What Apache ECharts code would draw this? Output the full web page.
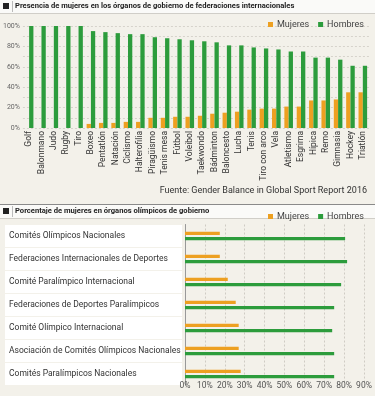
<!DOCTYPE html>
<html>
<head>
<meta charset="utf-8">
<script src="https://cdn.jsdelivr.net/npm/echarts@6/dist/echarts.min.js"></script>
<style>
  html, body { margin: 0; padding: 0; background: #f3f1ea; }
  #chart { width: 375px; height: 396px; }
</style>
</head>
<body>
<div id="chart"></div>
<script>
// federaciones internacionales (gráfico superior)
const deportes = ['Golf', 'Balonmano', 'Judo', 'Rugby', 'Tiro', 'Boxeo', 'Pentatlón', 'Natación', 'Ciclismo',
  'Halterofilia', 'Piragüismo', 'Tenis mesa', 'Fútbol', 'Voleibol', 'Taekwondo', 'Bádminton', 'Baloncesto',
  'Lucha', 'Tenis', 'Tiro con arco', 'Vela', 'Atletismo', 'Esgrima', 'Hípica', 'Remo', 'Gimnasia', 'Hockey', 'Triatlón'];
const mujeresFed = [0, 0, 0, 0, 0, 4, 5, 5, 6, 6, 10, 10, 11, 11, 12, 14, 15, 16, 18, 19, 19, 21, 21, 27, 27, 28, 35, 35];
const hombresFed = [100, 100, 100, 100, 100, 95, 94, 93, 92, 92, 89, 88, 87, 86, 85, 84, 81, 81, 79, 78, 77, 75, 75, 69, 69, 67, 61, 61];

// órganos olímpicos (gráfico inferior)
const organos = ['Comités Olímpicos Nacionales', 'Federaciones Internacionales de Deportes',
  'Comité Paralímpico Internacional', 'Federaciones de Deportes Paralímpicos', 'Comité Olímpico Internacional',
  'Asociación de Comités Olímpicos Nacionales', 'Comités Paralímpicos Nacionales'];
const mujeresOrg = [17.5, 17.5, 21.5, 25.5, 27, 27, 28];
const hombresOrg = [80.5, 81.5, 78.5, 75, 74, 75, 75];

const naranja = '#eda021';
const verde = '#2c9c3c';
const font = 'Roboto, "Liberation Sans", sans-serif';

const chart = echarts.init(document.getElementById('chart'), null, { renderer: 'canvas' });

const header = (y, text) => [
  { type: 'rect', shape: { x: 0, y: y, width: 375, height: 14 }, style: { fill: '#fafaf8' } },
  { type: 'rect', shape: { x: 0, y: y, width: 375, height: 1 }, style: { fill: '#8a8a8a' } },
  { type: 'rect', shape: { x: 0, y: y + 14, width: 375, height: 1 }, style: { fill: '#d0cec8' } },
  { type: 'rect', shape: { x: 3, y: y + 4, width: 6, height: 6 }, style: { fill: '#222' } },
  { type: 'rect', shape: { x: 12, y: y + 2, width: 1, height: 11 }, style: { fill: '#bbb' } },
  { type: 'text', x: 15, y: y + 7.5, style: { text: text, fill: '#222', font: 'bold 7.6px ' + font, textVerticalAlign: 'middle' } }
];

const legendBase = {
  data: ['Mujeres', 'Hombres'],
  right: 6,
  itemWidth: 5,
  itemHeight: 5,
  itemGap: 9,
  icon: 'rect',
  textStyle: { fontSize: 9, color: '#444', fontFamily: font, padding: [0, 0, 0, -1] },
  selectedMode: false
};

const option = {
  backgroundColor: '#f3f1ea',
  animation: false,
  textStyle: { fontFamily: font },
  graphic: [
    ...header(-1, 'Presencia de mujeres en los órganos de gobierno de federaciones internacionales'),
    { type: 'text', right: 8, top: 186, style: { text: 'Fuente: Gender Balance in Global Sport Report 2016', fill: '#333', font: '9px ' + font } },
    ...header(204, 'Porcentaje de mujeres en órganos olímpicos de gobierno')
  ],
  legend: [
    Object.assign({}, legendBase, { top: 15 }),
    Object.assign({}, legendBase, { top: 207 })
  ],
  grid: [
    { left: 21, right: 6, top: 26, height: 102 },
    { left: 185, right: 11, top: 224.5, height: 161 }
  ],
  xAxis: [
    {
      gridIndex: 0,
      type: 'category',
      data: deportes,
      axisLine: { show: false },
      axisTick: { show: false },
      axisLabel: { rotate: 90, fontSize: 8.5, color: '#333', margin: 3, interval: 0 }
    },
    {
      gridIndex: 1,
      type: 'value',
      min: 0,
      max: 90,
      interval: 10,
      offset: -8,
      axisLine: { show: false },
      axisTick: { show: false },
      axisLabel: { fontSize: 8.5, color: '#555', margin: 4, formatter: '{value}%' },
      splitLine: { lineStyle: { color: '#cfccc4', type: [2, 2], width: 1 } }
    }
  ],
  yAxis: [
    {
      gridIndex: 0,
      type: 'value',
      min: 0,
      max: 100,
      interval: 10,
      axisLabel: {
        fontSize: 7, color: '#666', margin: 3,
        formatter: v => (v % 20 === 0 ? v + '%' : '')
      },
      splitLine: { lineStyle: { color: '#d6d3cb', type: [2, 2], width: 1 } }
    },
    {
      gridIndex: 1,
      type: 'category',
      data: organos,
      inverse: true,
      axisLine: { show: true, lineStyle: { color: '#999' } },
      axisTick: { show: false },
      axisLabel: {
        margin: 180,
        align: 'left',
        fontSize: 8.5,
        color: '#333',
        backgroundColor: '#ffffff',
        width: 173,
        padding: [6, 0, 6, 4],
        lineHeight: 10
      }
    }
  ],
  series: [
    { name: 'Mujeres', type: 'bar', xAxisIndex: 0, yAxisIndex: 0, data: mujeresFed, barWidth: 4.3, barGap: 0, itemStyle: { color: naranja } },
    { name: 'Hombres', type: 'bar', xAxisIndex: 0, yAxisIndex: 0, data: hombresFed, barWidth: 4.3, barGap: 0, itemStyle: { color: verde } },
    { name: 'Mujeres', type: 'bar', xAxisIndex: 1, yAxisIndex: 1, data: mujeresOrg, barWidth: 3.3, barGap: '55%', itemStyle: { color: naranja } },
    { name: 'Hombres', type: 'bar', xAxisIndex: 1, yAxisIndex: 1, data: hombresOrg, barWidth: 3.3, barGap: '55%', itemStyle: { color: verde } }
  ]
};

chart.setOption(option);
window.addEventListener('resize', () => chart.resize());
</script>
</body>
</html>
